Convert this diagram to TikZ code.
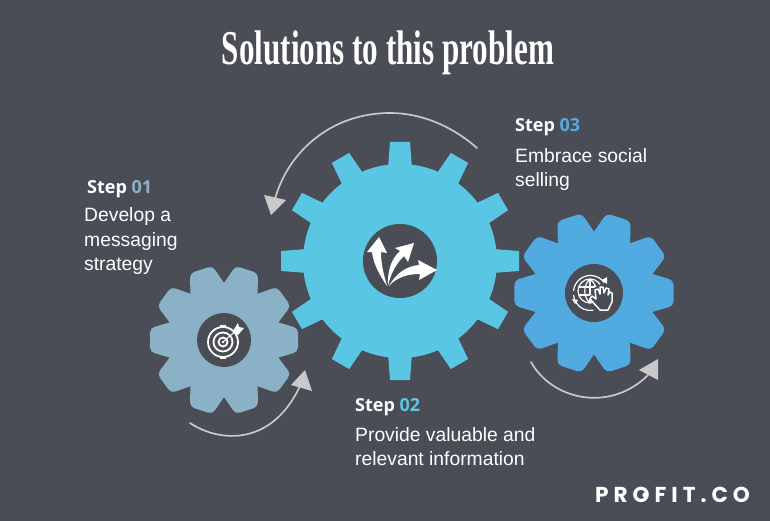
\documentclass[tikz,border=0pt]{standalone}
\usepackage{fontspec}
\setmainfont{Liberation Sans}
\newfontfamily\titlefont[FakeStretch=0.64]{Liberation Serif}
\newfontfamily\stepfont{Open Sans}
\newfontfamily\logofont[LetterSpace=23]{Poppins}
\definecolor{bgc}{HTML}{4A4C56}
\definecolor{gearA}{HTML}{8BB1C6}
\definecolor{gearB}{HTML}{59C6E4}
\definecolor{gearC}{HTML}{52ABE0}
\definecolor{arrowc}{HTML}{C9C9C9}
\tikzset{
  bodytext/.style={text=white,anchor=north west,align=left,inner sep=0pt,font=\fontsize{19.3}{24.5}\selectfont},
  steptext/.style={anchor=west,inner sep=0pt,text=white,font=\stepfont\bfseries\fontsize{18}{20}\selectfont},
  curvearrow/.style={draw=arrowc,line width=1.7pt,line cap=round},
  headfill/.style={fill=arrowc},
  hole/.style={fill=bgc},
  iconline/.style={draw=white,line width=1.8pt},
  iconfill/.style={fill=white},
}
% #1 centre x, #2 centre y, #3 scale, #4 colour
\newcommand{\softgear}[4]{%
  \begin{scope}[shift={(#1,#2)},scale=#3]
    \fill[#4] (0,0) circle[radius=57];
    \foreach \a in {18,54,...,342}{
      \fill[#4,rounded corners=4.5pt,rotate=\a] (-20.4,-45) -- (-11.8,-74) -- (11.8,-74) -- (20.4,-45) -- cycle;
    }
  \end{scope}
}
\begin{document}
\begin{tikzpicture}[x=1pt,y=-1pt]
\useasboundingbox (0,0) rectangle (770,521);
\fill[bgc] (0,0) rectangle (770,521);
\node[text=white,inner sep=0pt,font=\titlefont\bfseries\fontsize{48.6}{50}\selectfont] (title) at (388,53) {Solutions to this problem};

% gears
\softgear{224}{340}{1}{gearA}
\softgear{594}{293}{1.075}{gearC}
\fill[gearB] (400,261) circle[radius=97];
\foreach \a in {0,30,...,330}{
  \fill[gearB,rotate around={\a:(400,261)}] (387.5,175) -- (390,142) -- (410,142) -- (412.5,175) -- cycle;
}
\fill[hole] (224,340) circle[radius=27];
\fill[hole] (400,261) circle[radius=37];
\fill[hole] (594,293) circle[radius=29];

% target icon
\begin{scope}[shift={(224,340)}]
  \draw[iconline] (-1,2) circle[radius=15];
  \draw[iconline] (-1,2) circle[radius=9.5];
  \draw[iconline] (-1,2) circle[radius=4.5];
  \fill[iconfill] (-1,2) circle[radius=1.3];
  \draw[white,line width=1pt] (-1,2) -- (14,-11);
  \fill[iconfill] (9,-9) -- (14,-17) -- (15,-13) -- (20,-12) -- (14,-5) -- cycle;
  \fill[iconfill] (-4,-15) rectangle (2,-12.5);
  \fill[iconfill] (-4,16.5) rectangle (2,19);
\end{scope}

% arrows icon
\fill[iconfill] (387,286) .. controls (376,270) and (373,260) .. (372,252) -- (367,252) -- (379,237) -- (387,253) -- (381,252) .. controls (381,265) and (384,275) .. (387,286) -- cycle;
\fill[iconfill] (388,286) .. controls (387,270) and (392,258) .. (400,251) -- (395,248) -- (414,243) -- (408,262) -- (404,256) .. controls (397,263) and (391,272) .. (388,286) -- cycle;
\fill[iconfill] (389,286) .. controls (396,273) and (407,266) .. (419,265) -- (418,260) -- (437,270) -- (419,280) -- (420,274) .. controls (408,274) and (397,277) .. (389,286) -- cycle;

% globe hand icon
\begin{scope}[shift={(594,293)}]
  \begin{scope}[white,line width=1.2pt]
    \draw (-4,-2) circle[radius=12];
    \draw (-4,-14) .. controls (-11,-8) and (-11,4) .. (-4,10);
    \draw (-4,-14) .. controls (3,-8) and (3,-2) .. (2,2);
    \draw (-4,-14) -- (-4,10);
    \draw (-15,-6) -- (7,-6);
    \draw (-15,2) -- (-2,2);
    \draw (-20.5,-2) arc[start angle=185,end angle=325,radius=17];
    \draw (-20.5,2) arc[start angle=175,end angle=80,radius=17];
    \fill (13,-16) -- (13,-9) -- (8,-13) -- cycle;
    \fill (-22,6) -- (-16,7) -- (-19,11) -- cycle;
  \end{scope}
  \fill[bgc] (-6,4) -- (-2,1) -- (0,-5) -- (5,-8) -- (10,-10) -- (16,-7) -- (20,-3) -- (20,10) -- (15,19) -- (5,19) -- cycle;
  \draw[white,line width=1.5pt,line join=round,line cap=round] (6,17) -- (-4,6) -- (-2,3) -- (2,6) -- (1,-3) -- (4,-4) -- (6,1) -- (6,-6) -- (9,-6) -- (10,0) -- (12,-5) -- (15,-4) -- (14,2) -- (16,-1) -- (18,0) -- (18,9) -- (14,17) -- cycle;
\end{scope}

% connector arrows
\coordinate (a1s) at (477,148);
\coordinate (a1m) at (390,113);
\coordinate (a1e) at (275,199);
\coordinate (a1t) at (271,215);
\draw[curvearrow] (a1s) .. controls (452,126) and (421,113) .. (a1m) .. controls (331,113) and (288,152) .. (a1e);
\fill[headfill] (a1t) -- (264,195) -- (286,200) -- cycle;

\coordinate (a2s) at (190,423);
\coordinate (a2e) at (300,386);
\draw[curvearrow] (a2s) .. controls (220,443) and (272,446) .. (a2e);
\coordinate (a2t) at (305,370);
\fill[headfill] (a2t) -- (312,391) -- (291,385) -- cycle;

\coordinate (a3s) at (531,362);
\coordinate (a3e) at (648,375);
\draw[curvearrow] (a3s) .. controls (552,400) and (610,413) .. (a3e);
\coordinate (a3t) at (658,359);
\fill[headfill] (a3t) -- (658,380) -- (639,370) -- cycle;

% texts
\node[steptext] (s1) at (87,189) {Step \textcolor{gearA}{01}};
\node[bodytext] (t1) at (84,207.5) {Develop a\\messaging\\strategy};
\node[steptext] (s2) at (355,407.5) {Step \textcolor{gearB}{02}};
\node[bodytext] (t2) at (355,427) {Provide valuable and\\relevant information};
\node[steptext] (s3) at (515,127) {Step \textcolor{gearC}{03}};
\node[bodytext] (t3) at (515,148) {Embrace social\\selling};

% logo
\node[text=white,inner sep=0pt,anchor=west,font=\logofont\bfseries\fontsize{21.6}{24}\selectfont] (logo) at (595,495) {PROFIT.CO};
\coordinate (logoO) at (645,495);
\fill[white] (logoO) circle[radius=2.6];
\end{tikzpicture}
\end{document}
